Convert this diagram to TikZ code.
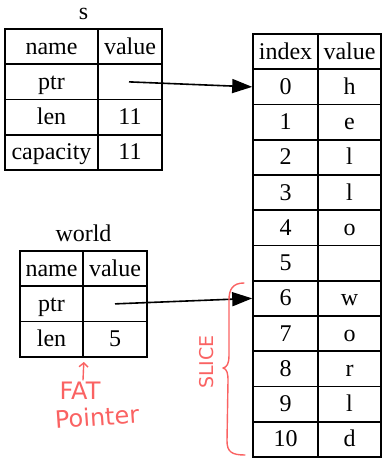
\documentclass[tikz,border=0pt]{standalone}
\usepackage{fontspec}
\setmainfont{Liberation Serif}
\newfontfamily\handfont{DejaVu Sans}
\usetikzlibrary{arrows.meta}
\definecolor{ink}{RGB}{250,98,98}
\begin{document}
\begin{tikzpicture}[x=1pt,y=-1pt,
  font=\fontsize{24}{28}\selectfont,
  cell/.style={draw, line width=1.6pt, inner sep=0pt, minimum height=35.25pt,
    text height=18pt, text depth=3pt},
  ptrline/.style={line width=1.6pt, -{Triangle[length=20pt,width=14pt]}},
  note/.style={text=ink, font=\handfont\fontsize{24}{28}\selectfont},
  annot/.style={draw=ink, line width=1.4pt, line cap=round, line join=round}]
\useasboundingbox (0,0) rectangle (389,466);

% table s
\node[anchor=base] (s-title) at (83.5,19) {s};
\node[cell, minimum width=93pt] (s-h-n) at (51.5,46.625) {name};
\node[cell, minimum width=64pt] (s-h-v) at (130,46.625) {value};
\node[cell, minimum width=93pt] (s-ptr-n) at (51.5,81.875) {ptr};
\node[cell, minimum width=64pt] (s-ptr-v) at (130,81.875) {};
\node[cell, minimum width=93pt] (s-len-n) at (51.5,117.125) {len};
\node[cell, minimum width=64pt] (s-len-v) at (130,117.125) {11};
\node[cell, minimum width=93pt] (s-cap-n) at (51.5,152.375) {capacity};
\node[cell, minimum width=64pt] (s-cap-v) at (130,152.375) {11};

% table world
\node[anchor=base] (w-title) at (83.5,241) {world};
\node[cell, minimum width=63pt] (w-h-n) at (51.5,268.625) {name};
\node[cell, minimum width=64pt] (w-h-v) at (115,268.625) {value};
\node[cell, minimum width=63pt] (w-ptr-n) at (51.5,303.875) {ptr};
\node[cell, minimum width=64pt] (w-ptr-v) at (115,303.875) {};
\node[cell, minimum width=63pt] (w-len-n) at (51.5,339.125) {len};
\node[cell, minimum width=64pt] (w-len-v) at (115,339.125) {5};

% heap buffer
\node[cell, minimum width=65pt] (a-h-i) at (285.5,51.625) {index};
\node[cell, minimum width=63pt] (a-h-v) at (349.5,51.625) {value};
\foreach \i/\c [count=\k] in {0/h,1/e,2/l,3/l,4/o,5/{},6/w,7/o,8/r,9/l,10/d} {
  \node[cell, minimum width=65pt] (a-\i-i) at (285.5,{34+35.25*\k+17.625}) {\i};
  \node[cell, minimum width=63pt] (a-\i-v) at (349.5,{34+35.25*\k+17.625}) {\c};
}

% pointers
\draw[ptrline] ([xshift=-1pt]s-ptr-v.center) -- (a-0-i.west);
\draw[ptrline] (w-ptr-v.center) -- (a-6-i.west);

% hand-drawn notes
\draw[annot] (244,283) .. controls (233,283) and (229,289) .. (229,300)
  -- (229,355) .. controls (229,364) and (227,367) .. (223,368)
  .. controls (227,369) and (228,373) .. (228,381)
  -- (227,441) .. controls (227,452) and (232,455) .. (245,455);
\node[note, rotate=90, font=\handfont\fontsize{19}{22}\selectfont] (slice) at (207,362) {SLICE};

\coordinate (fat-tail) at (83,380);
\draw[annot, -{Straight Barb[length=4pt,width=9pt]}] (fat-tail) -- (w-len-n.south east |- 0,362);
\node[note] (fat) at (80,391) {FAT};
\node[note, rotate=4] (pointer) at (97,417) {Pointer};
\end{tikzpicture}
\end{document}
